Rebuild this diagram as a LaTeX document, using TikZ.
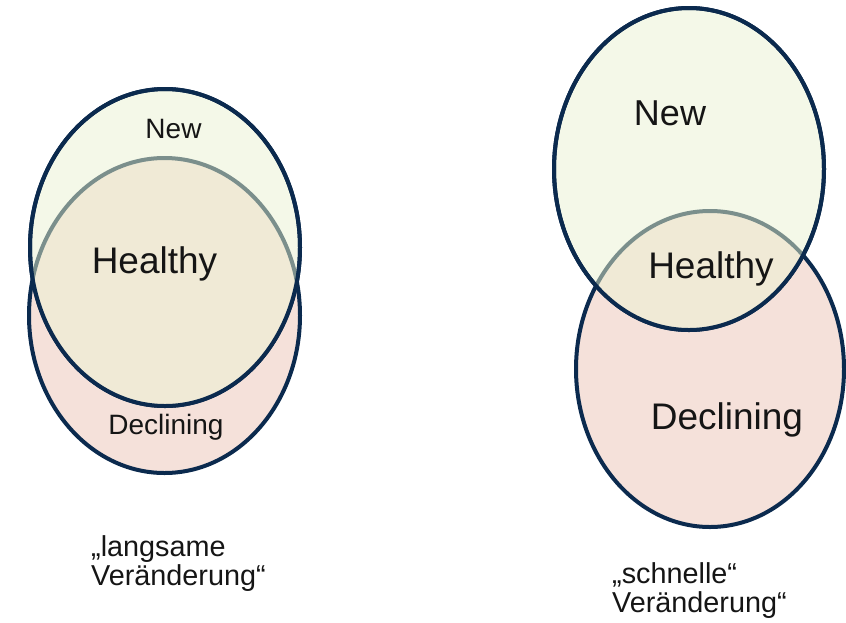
\documentclass[tikz,border=0pt]{standalone}
\usepackage{fontspec}
\setmainfont{Liberation Sans}
\definecolor{navy}{HTML}{0B2A4E}
\definecolor{newfill}{HTML}{F4F8E8}
\definecolor{declfill}{HTML}{F5E1DA}
\definecolor{healthfill}{HTML}{F0EAD6}
\definecolor{healthline}{HTML}{7B8F8C}
\definecolor{ink}{HTML}{151515}

\tikzset{
  setline/.style={draw=navy, line width=4pt},
  smalltxt/.style={inner sep=0pt, anchor=base, text=ink, font=\fontsize{28}{29}\selectfont},
  bigtxt/.style={inner sep=0pt, anchor=base, text=ink, font=\fontsize{37}{38}\selectfont},
  notetxt/.style={inner sep=0pt, anchor=north west, align=left, text=ink, font=\fontsize{28.8}{29}\selectfont}
}

\begin{document}
\begin{tikzpicture}[x=1pt, y=-1pt]
\useasboundingbox (0,0) rectangle (846,622);
\coordinate (lnew) at (165,247.5);
\coordinate (ldecl) at (164.5,315.5);
\coordinate (rnew) at (689,169);
\coordinate (rdecl) at (710,369);

% left pair: slow change
\fill[declfill, setline] (ldecl) ellipse [x radius=135.5, y radius=157.5];
\fill[newfill, setline] (lnew) ellipse [x radius=135, y radius=158.5];
\begin{scope}
\clip (lnew) ellipse [x radius=135, y radius=158.5];
\fill[healthfill, draw=healthline, line width=4pt] (ldecl) ellipse [x radius=135.5, y radius=157.5];
\end{scope}
\draw[setline] (lnew) ellipse [x radius=135, y radius=158.5];

% right pair: fast change
\fill[declfill, setline] (rdecl) ellipse [x radius=134, y radius=158];
\fill[newfill, setline] (rnew) ellipse [x radius=135, y radius=161];
\begin{scope}
\clip (rnew) ellipse [x radius=135, y radius=161];
\fill[healthfill, draw=healthline, line width=4pt] (rdecl) ellipse [x radius=134, y radius=158];
\end{scope}
\draw[setline] (rnew) ellipse [x radius=135, y radius=161];

\node[smalltxt] (lnewlbl) at (173.5,138) {New};
\node[bigtxt] (lhealthlbl) at (154.5,273) {Healthy};
\node[smalltxt] (ldecllbl) at (166,434) {Declining};
\node[bigtxt, font=\fontsize{36}{37}\selectfont] (rnewlbl) at (670,125) {New};
\node[bigtxt] (rhealthlbl) at (711,278) {Healthy};
\node[bigtxt] (rdecllbl) at (727,429) {Declining};

\node[notetxt] (slownote) at (91,535) {„langsame\\Veränderung“};
\node[notetxt] (fastnote) at (612,562) {„schnelle“\\Veränderung“};
\end{tikzpicture}
\end{document}
